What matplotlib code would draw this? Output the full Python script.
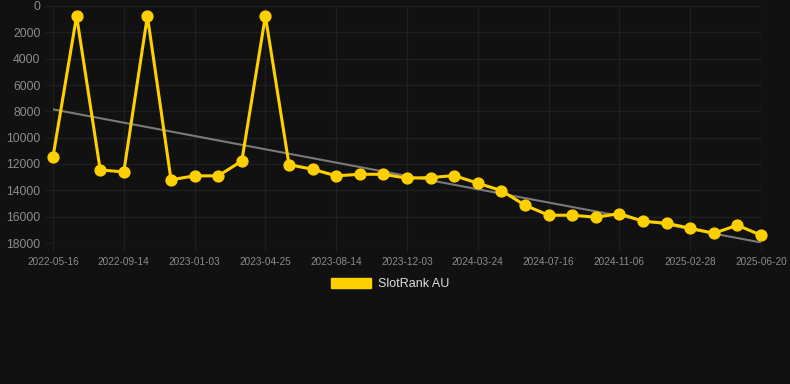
import matplotlib
matplotlib.use("Agg")
from matplotlib import pyplot as plt
from matplotlib.patches import Patch

# dates shown on the x axis (every third point gets a label)
tick_labels = ["2022-05-16", "2022-09-14", "2023-01-03", "2023-04-25", "2023-08-14",
               "2023-12-03", "2024-03-24", "2024-07-16", "2024-11-06", "2025-02-28",
               "2025-06-20"]

# SlotRank AU rank values, one per point
rank = [11450, 760, 12450, 12600, 760, 13200, 12900, 12900, 11770, 760,
        12050, 12400, 12900, 12780, 12780, 13080, 13030, 12880, 13460, 14020,
        15130, 15890, 15890, 16040, 15770, 16350, 16500, 16880, 17260, 16650,
        17410]

# trend line values at first and last point
trend = [7850, 17960]

bg = "#111111"
yellow = "#ffd000"
grid_col = "#1f1f1f"
label_col = "#8c8c8c"

plt.rcParams["font.family"] = ["Liberation Sans", "DejaVu Sans"]

fig = plt.figure(figsize=(7.9, 3.84), dpi=100, facecolor=bg)
ax = fig.add_axes([53 / 790, 1 - 243 / 384, 708 / 790, 237 / 384], facecolor=bg)

x = list(range(len(rank)))
ax.plot([x[0], x[-1]], trend, color="#7a7a7a", linewidth=1.5, zorder=2)
ax.plot(x, rank, color=yellow, linewidth=2.2, marker="o", markersize=7.8,
        solid_joinstyle="miter", clip_on=False, zorder=3)

ax.set_xlim(0, len(rank) - 1)
ax.set_ylim(18000, 0)
ax.set_yticks(range(0, 18001, 2000))
ax.set_xticks(x[::3])
ax.set_xticklabels(tick_labels)

ax.grid(True, color=grid_col, linewidth=1)
ax.set_axisbelow(True)
for s in ax.spines.values():
    s.set_visible(False)
ax.tick_params(axis="y", length=6, color=grid_col, labelcolor=label_col, labelsize=8.8, pad=3)
ax.tick_params(axis="x", length=6, color=grid_col, labelcolor=label_col, labelsize=7.2, pad=4)

handle = Patch(facecolor=yellow, edgecolor=yellow)
fig.legend([handle], ["SlotRank AU"], loc="center", bbox_to_anchor=(0.494, 0.26),
           frameon=False, fontsize=9, labelcolor="#dddddd",
           handlelength=3.2, handleheight=0.8, handletextpad=0.5)

fig.savefig("out.png", dpi=100, facecolor=bg)
